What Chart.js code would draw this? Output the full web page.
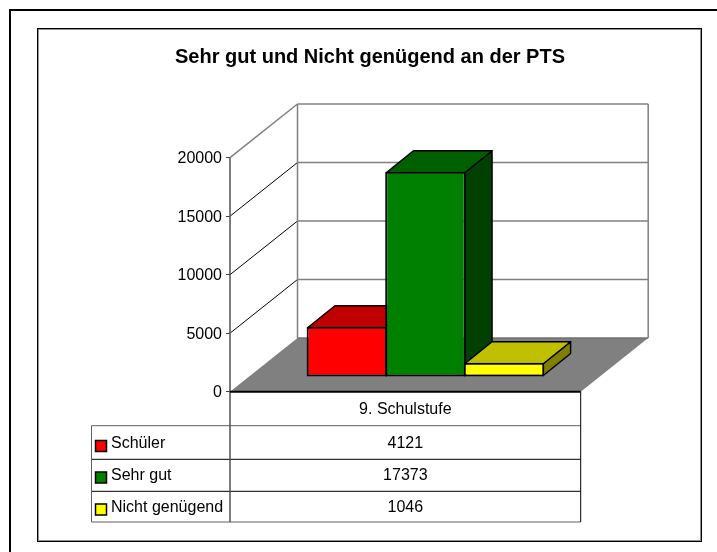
<!DOCTYPE html>
<html>
<head>
<meta charset="utf-8">
<title>Sehr gut und Nicht genügend an der PTS</title>
<script src="https://cdn.jsdelivr.net/npm/chart.js@4"></script>
<style>
  html, body { margin: 0; padding: 0; background: #fff; }
  canvas { display: block; }
</style>
</head>
<body>
<canvas id="myChart" width="717" height="552"></canvas>
<script>
/* data */
var categories = ["9. Schulstufe"];
var seriesNames = ["Schüler", "Sehr gut", "Nicht genügend"];
var schueler = [4121];
var sehrGut = [17373];
var nichtGenuegend = [1046];
var tickStep = 5000;
var tickMax = 20000;

var frontColors = ["#ff0000", "#008000", "#ffff00"];
var topColors = ["#c00000", "#006000", "#c0c000"];
var sideColors = ["#800000", "#004000", "#808000"];

/* the 3D look: wall depth, bar depth and where the bars stand on the floor */
var wallDepth = { x: 67.5, y: 53.7 };
var barDepth = { x: 27.3, y: 22 };
var barShift = { x: 20.1, y: 15.7 };
var barBorder = 2;
var font = "Liberation Sans, Arial, sans-serif";

function poly(ctx, pts, fill, stroke, lw) {
  ctx.beginPath();
  ctx.moveTo(pts[0][0], pts[0][1]);
  for (var i = 1; i < pts.length; i++) ctx.lineTo(pts[i][0], pts[i][1]);
  if (fill) { ctx.closePath(); ctx.fillStyle = fill; ctx.fill(); }
  if (stroke) { ctx.strokeStyle = stroke; ctx.lineWidth = lw || 1; ctx.stroke(); }
}

var look3d = {
  id: "look3d",
  afterLayout: function (chart) {
    // title sits a bit right of the canvas centre
    chart.titleBlock.left = 23;
    chart.titleBlock.right = 717;
  },
  afterDatasetsUpdate: function (chart) {
    var inset = barBorder / 2; // chart.js draws the border inside the bar
    chart.data.datasets.forEach(function (ds, i) {
      chart.getDatasetMeta(i).data.forEach(function (bar) {
        bar.x += barShift.x;
        bar.y -= barShift.y + inset;
        bar.base -= barShift.y - inset;
      });
    });
  },
  beforeDraw: function (chart) {
    var ctx = chart.ctx;
    ctx.save();
    ctx.fillStyle = "#fff";
    ctx.fillRect(0, 0, chart.width, chart.height);
    // outer page lines
    poly(ctx, [[10, 552], [10, 10], [717, 10]], null, "#000", 2);
    // chart frame
    ctx.strokeStyle = "#000";
    ctx.lineWidth = 1;
    ctx.strokeRect(37.5, 28.5, 664, 513);
    ctx.strokeStyle = "#909090";
    ctx.strokeRect(38.5, 29.5, 662, 511);
    ctx.restore();
  },
  beforeDatasetsDraw: function (chart) {
    var ctx = chart.ctx, area = chart.chartArea, y = chart.scales.y;
    var l = area.left, r = area.right, b = area.bottom, t = area.top;
    var dx = wallDepth.x, dy = wallDepth.y;
    ctx.save();
    // floor
    poly(ctx, [[l, b], [l + dx, b - dy], [r + dx, b - dy], [r, b]], "#808080");
    // grid: side wall diagonals and back wall lines
    y.ticks.forEach(function (tick) {
      var py = y.getPixelForValue(tick.value);
      if (tick.value === 0) return;
      var top = tick.value === tickMax;
      poly(ctx, [[l, py], [l + dx, py - dy]], null, top ? "#808080" : "#000", top ? 1.5 : 1);
      poly(ctx, [[l + dx, py - dy], [r + dx, py - dy]], null, "#808080", 1.5);
    });
    poly(ctx, [[l + dx, t - dy], [l + dx, b - dy]], null, "#808080", 1.5);
    poly(ctx, [[r + dx, t - dy], [r + dx, b - dy]], null, "#808080", 1.5);
    poly(ctx, [[l + dx, b - dy], [r + dx, b - dy]], null, "#707070", 1.5);

    // bars left to right so the nearer faces overlap correctly
    chart.data.datasets.forEach(function (ds, i) {
      var bar = chart.getDatasetMeta(i).data[0];
      var inset = barBorder / 2;
      var x0 = bar.x - bar.width / 2 + inset, x1 = bar.x + bar.width / 2 - inset;
      var yt = bar.y + inset, yb = bar.base - inset;
      var ex = barDepth.x, ey = barDepth.y;
      var side = [[x1, yt], [x1 + ex, yt - ey], [x1 + ex, yb - ey], [x1, yb]];
      var top = [[x0, yt], [x0 + ex, yt - ey], [x1 + ex, yt - ey], [x1, yt]];
      ctx.lineJoin = "round";
      poly(ctx, side, sideColors[i]);
      poly(ctx, side.concat([side[0]]), null, "#000", 1.5);
      poly(ctx, top, topColors[i]);
      poly(ctx, top.concat([top[0]]), null, "#000", 1.5);
      bar.draw(ctx);
    });
    ctx.restore();
    return false;
  },
  afterDraw: function (chart) {
    var ctx = chart.ctx, area = chart.chartArea;
    var l = area.left, r = area.right;
    var tableLeft = 91.5, rowLines = [425.7, 459.3, 491.3, 522];
    var rows = [schueler, sehrGut, nichtGenuegend];
    var rowText = [444, 476, 508];
    var keyTop = [440.5, 472, 504];
    ctx.save();
    // table grid
    rowLines.forEach(function (py, i) {
      var grey = i === 0 || i === 3;
      poly(ctx, [[tableLeft, py], [r, py]], null, grey ? "#606060" : "#000", 1);
    });
    poly(ctx, [[tableLeft, rowLines[0]], [tableLeft, rowLines[3]]], null, "#606060", 1);
    poly(ctx, [[l, area.top], [l, rowLines[3]]], null, "#505050", 1.5);
    poly(ctx, [[r, area.bottom], [r, rowLines[3]]], null, "#000", 1);
    // floor front edge
    poly(ctx, [[l, area.bottom], [r, area.bottom]], null, "#000", 2);
    // table text and colour keys
    ctx.font = "16px " + font;
    ctx.fillStyle = "#000";
    ctx.textBaseline = "middle";
    rows.forEach(function (vals, i) {
      ctx.textAlign = "center";
      ctx.fillStyle = "#000";
      ctx.fillText(String(vals[0]), (l + r) / 2, rowText[i]);
      ctx.textAlign = "left";
      ctx.fillText(seriesNames[i], 111, rowText[i]);
      ctx.fillStyle = frontColors[i];
      ctx.fillRect(95.5, keyTop[i], 11, 11);
      ctx.strokeStyle = "#000";
      ctx.lineWidth = 1.5;
      ctx.strokeRect(95.5, keyTop[i], 11, 11);
    });
    ctx.restore();
  }
};

var ctx = document.getElementById("myChart").getContext("2d");
var chart = new Chart(ctx, {
  type: "bar",
  data: {
    labels: categories,
    datasets: [
      { label: seriesNames[0], data: schueler, backgroundColor: frontColors[0] },
      { label: seriesNames[1], data: sehrGut, backgroundColor: frontColors[1] },
      { label: seriesNames[2], data: nichtGenuegend, backgroundColor: frontColors[2] }
    ]
  },
  options: {
    responsive: false,
    animation: false,
    layout: { padding: { left: 0, right: 136.3, top: 0, bottom: 0 } },
    datasets: {
      bar: {
        barPercentage: 1.0255,
        categoryPercentage: 0.672,
        borderColor: "#000",
        borderWidth: barBorder,
        borderSkipped: false
      }
    },
    plugins: {
      legend: { display: false },
      tooltip: { enabled: false },
      title: {
        display: true,
        text: "Sehr gut und Nicht genügend an der PTS",
        color: "#000",
        font: { family: font, size: 20, weight: "bold", lineHeight: 1.2 },
        padding: { top: 45, bottom: 88.7 }
      }
    },
    scales: {
      x: {
        afterFit: function (scale) { scale.height = 160.3; },
        grid: { display: false },
        border: { display: false },
        ticks: { color: "#000", padding: 0, font: { family: font, size: 16 } }
      },
      y: {
        min: 0,
        max: tickMax,
        afterFit: function (scale) { scale.width = 230; },
        grid: { drawOnChartArea: false, drawTicks: true, tickLength: 4, color: "#404040" },
        border: { display: false },
        ticks: {
          stepSize: tickStep,
          color: "#000",
          padding: 4,
          labelOffset: 1,
          font: { family: font, size: 16 },
          callback: function (value) { return String(value); }
        }
      }
    }
  },
  plugins: [look3d]
});
</script>
</body>
</html>
